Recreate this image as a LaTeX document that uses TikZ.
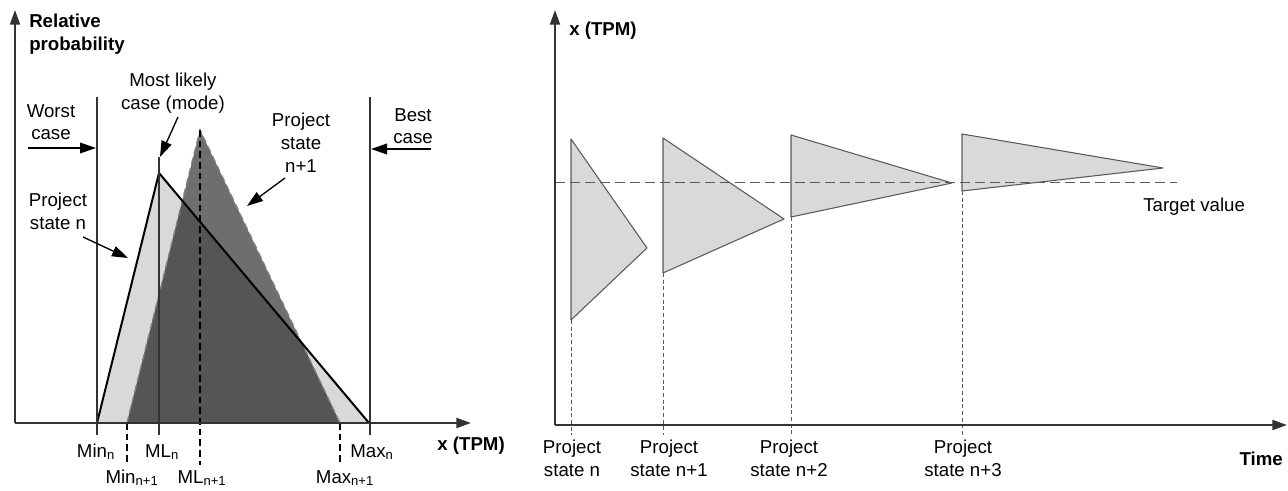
\documentclass[tikz,border=0pt]{standalone}
\usepackage{fontspec}
\setmainfont{Liberation Sans}
\usetikzlibrary{arrows.meta, positioning}
\definecolor{lightfill}{HTML}{D9D9D9}
\definecolor{darkfill}{HTML}{6E6E6E}
\definecolor{darkerfill}{HTML}{555555}
\definecolor{linegray}{HTML}{5A5A5A}
\definecolor{axgray}{HTML}{333333}

\begin{document}
\begin{tikzpicture}[x=0.75pt, y=-0.75pt,
    txt/.style={font=\fontsize{14}{17}\selectfont, align=center, inner sep=0pt},
    btxt/.style={font=\fontsize{14}{17}\selectfont\bfseries, align=left, inner sep=0pt},
    axis/.style={line width=1.5pt, draw=axgray, -{Triangle[length=11pt,width=7.5pt]}},
    ptr/.style={line width=1pt, -{Triangle[length=12pt,width=8pt]}},
    bound/.style={line width=0.9pt, draw=axgray},
    ddash/.style={draw=gray, line width=1pt, dash pattern=on 5pt off 3pt},
    cdash/.style={draw=black, line width=1pt, dash pattern=on 5pt off 3pt},
    fdash/.style={draw=linegray, line width=0.6pt, dash pattern=on 3pt off 2pt},
    tdash/.style={draw=linegray, line width=0.7pt, dash pattern=on 7.5pt off 3.75pt},
    fan/.style={fill=lightfill, draw=linegray, line width=0.8pt, line join=round}
  ]
    \useasboundingbox (0,0) rectangle (1288,491);

    % left panel: distributions of the TPM
    \coordinate (lo) at (15,423);
    \coordinate (ly) at (15,10);
    \coordinate (lx) at (471,423);
    \coordinate (minn) at (97,423);
    \coordinate (mln) at (159,173);
    \coordinate (maxn) at (369,423);
    \coordinate (minm) at (127,423);
    \coordinate (mlm) at (200,130);
    \coordinate (maxm) at (340,423);

    \fill[lightfill] (minn) -- (mln) -- (maxn) -- cycle;
    \fill[darkfill] (minm) -- (mlm) -- (maxm) -- cycle;
    \begin{scope}
      \clip (minn) -- (mln) -- (maxn) -- cycle;
      \fill[darkerfill] (minm) -- (mlm) -- (maxm) -- cycle;
    \end{scope}
    \draw[ddash] (minm) -- (mlm) -- (maxm);
    \draw[cdash] (mlm) -- (200,465);
    \draw[cdash] (minm) -- (127,465);
    \draw[cdash] (maxm) -- (340,465);
    \draw[line width=1.5pt, line join=round] (minn) -- (mln) -- (maxn);

    \coordinate (wtop) at (97,97);
    \coordinate (wbot) at (97,435);
    \coordinate (btop) at (370,97);
    \coordinate (bbot) at (370,435);
    \coordinate (mtop) at (159,157);
    \coordinate (mbot) at (159,435);
    \draw[bound] (wtop) -- (wbot);
    \draw[bound] (btop) -- (bbot);
    \draw[bound] (mtop) -- (mbot);
    \draw[axis] (lo) -- (ly);
    \draw[axis] (lo) -- (lx);

    \node[btxt, anchor=north west] (relp) at (29,14) {Relative\\probability};
    \node[btxt, anchor=base east] (lxl) at (505,450) {x (TPM)};
    \node[txt, anchor=north] (mlc) at (173,73) {Most likely\\case (mode)};
    \node[txt, anchor=north] (wc) at (51,104) {Worst\\case};
    \node[txt, anchor=north] (bc) at (413,108) {Best\\case};
    \node[txt, anchor=north] (psm) at (301,113) {Project\\state\\n+1};
    \node[txt, anchor=north] (psn) at (58,193) {Project\\state n};

    \coordinate (wa) at (28,148);
    \coordinate (wb) at (96,148);
    \coordinate (ba) at (431,149);
    \coordinate (bb) at (371,149);
    \coordinate (ma) at (178,117);
    \coordinate (mb) at (160,157);
    \coordinate (pa) at (285,178);
    \coordinate (pb) at (247,206);
    \coordinate (na) at (83,237);
    \coordinate (nb) at (128,258);
    \draw[ptr] (wa) -- (wb);
    \draw[ptr] (ba) -- (bb);
    \draw[ptr] (ma) -- (mb);
    \draw[ptr] (pa) -- (pb);
    \draw[ptr] (na) -- (nb);

    \node[txt, anchor=base] (tminn) at (96,457) {Min\textsubscript{n}};
    \node[txt, anchor=base] (tmln) at (162,457) {ML\textsubscript{n}};
    \node[txt, anchor=base] (tmaxn) at (372,457) {Max\textsubscript{n}};
    \node[txt, anchor=base] (tminm) at (132,483) {Min\textsubscript{n+1}};
    \node[txt, anchor=base] (tmlm) at (202,483) {ML\textsubscript{n+1}};
    \node[txt, anchor=base] (tmaxm) at (345,483) {Max\textsubscript{n+1}};

    % right panel: estimates converging over time
    \coordinate (ro) at (555,425);
    \coordinate (ry) at (555,10);
    \coordinate (rx) at (1287,425);
    \foreach \x/\t/\b/\tx/\ty/\lx/\st in {571/139/320/647/248/572/n,
        663/138/273/784/219/669/n+1, 791/135/217/952/183/789/n+2,
        962/134/191/1163/168/963/n+3} {
      \draw[fan] (\x,\t) -- (\tx,\ty) -- (\x,\b) -- cycle;
      \draw[fdash] (\x,\b) -- (\x,435);
      \node[txt, anchor=north] (ps\st) at (\lx,440) {Project\\state \st};
    }
    \coordinate (ta) at (555,182);
    \coordinate (tb) at (1177,182);
    \draw[tdash] (ta) -- (tb);
    \draw[axis] (ro) -- (ry);
    \draw[axis] (ro) -- (rx);

    \node[btxt, anchor=base west] (rxl) at (569,36) {x (TPM)};
    \node[txt, anchor=base west] (tv) at (1143,212) {Target value};
    \node[btxt, anchor=base east] (tm) at (1283,465) {Time};
  \end{tikzpicture}
\end{document}
